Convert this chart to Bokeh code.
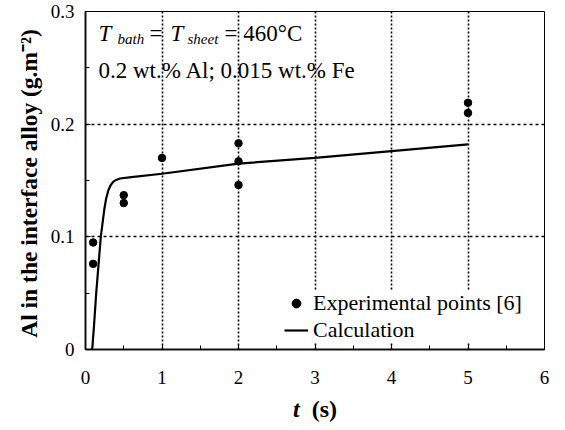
import numpy as np
from bokeh.plotting import figure
from bokeh.layouts import column
from bokeh.models import FixedTicker, Label, Legend, LegendItem, Range1d, Div
from bokeh.embed import file_html
from bokeh.resources import INLINE

# ---- data ----
exp_t = [0.1, 0.1, 0.5, 0.5, 1.0, 2.0, 2.0, 2.0, 5.0, 5.0]
exp_al = [0.095, 0.076, 0.137, 0.130, 0.170, 0.183, 0.167, 0.146, 0.219, 0.210]

calc_t = [0.08, 0.09, 0.11, 0.14, 0.17, 0.20, 0.245, 0.27, 0.30, 0.33, 0.365, 0.40, 0.45, 0.6, 1.0, 2.0, 3.0, 4.0, 5.0]
calc_al = [0.0, 0.002, 0.02, 0.05, 0.075, 0.10, 0.124, 0.134, 0.1415, 0.146, 0.149, 0.1505, 0.1518, 0.153, 0.156, 0.165, 0.170, 0.176, 0.182]

x_ticks = [0, 1, 2, 3, 4, 5, 6]
x_tick_labels = ["0", "1", "2", "3", "4", "5", "6"]
y_ticks = [0, 0.1, 0.2, 0.3]
y_tick_labels = ["0", "0.1", "0.2", "0.3"]

legend_labels = ["Experimental points [6]", "Calculation"]
y_title = "Al in the interface alloy  (g.m\u207b\u00b2)"

SERIF = "Liberation Serif"

p = figure(width=549, height=391, output_backend="svg", toolbar_location=None,
           x_range=Range1d(0, 6), y_range=Range1d(0, 0.3),
           min_border_left=85, min_border_right=5, min_border_top=11, min_border_bottom=42)
p.background_fill_color = "white"
p.border_fill_color = "white"
p.outline_line_color = "black"
p.outline_line_width = 1

p.xaxis.ticker = FixedTicker(ticks=x_ticks, minor_ticks=list(np.arange(0, 6.01, 0.5)))
p.yaxis.ticker = FixedTicker(ticks=y_ticks, minor_ticks=list(np.arange(0, 0.301, 0.05)))
p.xaxis.major_label_overrides = dict(zip(x_ticks, x_tick_labels))
p.yaxis.major_label_overrides = dict(zip(y_ticks, y_tick_labels))
for ax in (p.xaxis, p.yaxis):
    ax.axis_line_color = "#111111"
    ax.axis_line_width = 2
    ax.major_tick_in = 5
    ax.major_tick_out = 0
    ax.minor_tick_in = 4
    ax.minor_tick_out = 0
    ax.major_tick_line_color = "black"
    ax.minor_tick_line_color = "black"
    ax.major_label_text_font = SERIF
    ax.major_label_text_font_size = "19px"
    ax.major_label_text_color = "black"
p.xaxis.major_label_standoff = 21
p.yaxis.major_label_standoff = 11
p.yaxis.axis_label = y_title
p.yaxis.axis_label_text_font = SERIF
p.yaxis.axis_label_text_font_size = "23.5px"
p.yaxis.axis_label_text_font_style = "bold"
p.yaxis.axis_label_text_color = "black"
p.yaxis.axis_label_standoff = 6

p.xgrid.ticker = FixedTicker(ticks=x_ticks[1:-1])
p.ygrid.ticker = FixedTicker(ticks=y_ticks[1:-1])
p.xgrid.grid_line_color = "black"
p.xgrid.grid_line_width = 1.6
p.xgrid.grid_line_dash = "2 2"
p.ygrid.grid_line_color = "black"
p.ygrid.grid_line_width = 1.6
p.ygrid.grid_line_dash = "3 3"

ln = p.line(calc_t, calc_al, line_width=2.2, color="black")
sc = p.scatter(exp_t, exp_al, marker="circle", size=7.5, color="black")

legend = Legend(items=[LegendItem(label=legend_labels[0], renderers=[sc]),
                       LegendItem(label=legend_labels[1], renderers=[ln])],
                location=(199, 6))
legend.background_fill_color = "white"
legend.background_fill_alpha = 1.0
legend.border_line_color = None
legend.label_text_font = SERIF
legend.label_text_font_size = "22px"
legend.label_text_color = "black"
legend.glyph_width = 24
legend.glyph_height = 22
legend.label_height = 22
legend.label_standoff = 5
legend.padding = 4
legend.spacing = 1
legend.margin = 0
p.add_layout(legend)

def lab(text, dx, base, size, style="normal", font=SERIF):
    p.add_layout(Label(x=0, y=0.3, x_offset=dx, y_offset=-base, text=text,
                       text_font=font, text_font_size=size, text_font_style=style,
                       text_color="black", text_align="left", text_baseline="alphabetic"))

lab("T", 13, 22, "23px", "italic")
lab("bath", 32, 27, "15px", "italic")
lab("=", 64, 22, "23px")
lab("T", 85, 22, "23px", "italic")
lab("sheet", 102, 27, "15px", "italic")
lab("= 460\u00b0C", 139, 22, "23px")
lab("0.2 wt.% Al; 0.015 wt.% Fe", 13, 59, "23px")

# x-axis title with mixed styles, as HTML text directly below the figure
xtitle = Div(text="<i>t</i>&nbsp;&nbsp;(s)", width=120, height=23, margin=(0, 0, 0, 293),
             styles={"font-family": "'Liberation Serif', 'Times New Roman', serif",
                     "font-size": "24px", "font-weight": "bold", "line-height": "23px",
                     "padding-top": "7px", "color": "black", "white-space": "nowrap"})

layout = column(p, xtitle)
open("out.html", "w").write(file_html(layout, INLINE))
